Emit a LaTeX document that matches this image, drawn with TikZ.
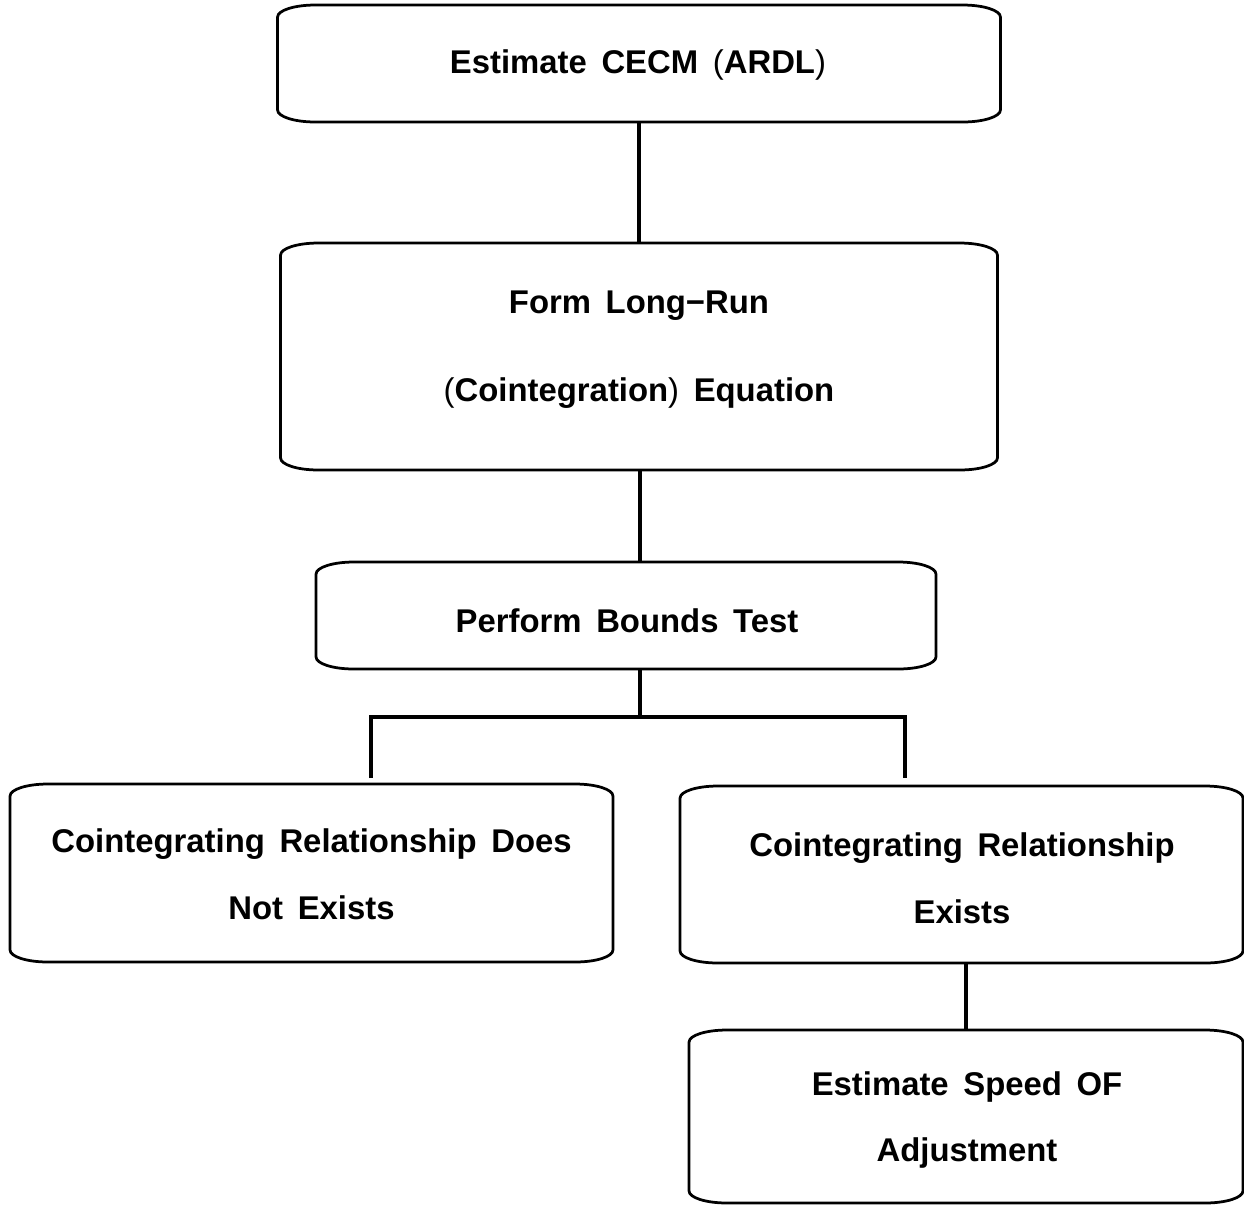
\documentclass[tikz,border=0pt]{standalone}
\usepackage{fontspec}
\setmainfont{Liberation Sans}[WordSpace=1.6]
\usetikzlibrary{calc}
\definecolor{fbInk}{HTML}{000000}
\newcommand\fbrx{.75cm}
\newcommand\fbry{.24cm}
\tikzset{
  fb step/.style={inner sep=0pt, outer sep=0pt},
  fb text/.style={
    align=center,
    inner sep=0pt,
    font=\fontsize{18.7}{38}\selectfont\bfseries,
    text=fbInk
  },
  fb frame/.style={draw=fbInk, line width=.55mm},
  fb link/.style={draw=fbInk, line width=.75mm}
}

\begin{document}
\begin{tikzpicture}[x=.02cm,y=.02cm]
  \useasboundingbox[fill=white] (0,0) rectangle (1244,-1205);

  % boxes
  \node[fb step, minimum width=14.46cm, minimum height=2.34cm] (est) at (639,-63.5) {};
  \node[fb step, minimum width=14.34cm, minimum height=4.54cm] (form) at (639,-356.5) {};
  \node[fb step, minimum width=12.4cm, minimum height=2.14cm] (bound) at (626,-615.5) {};
  \node[fb step, minimum width=12.06cm, minimum height=3.56cm] (noco) at (311.5,-873) {};
  \node[fb step, minimum width=11.26cm, minimum height=3.54cm] (co) at (961.5,-874.5) {};
  \node[fb step, minimum width=11.08cm, minimum height=3.46cm] (speed) at (966,-1116.5) {};

  % rounded frames, wider than tall at the corners
  \foreach \fb in {est,form,bound,noco,co,speed} {
    \draw[fb frame]
      ([xshift=\fbrx]\fb.north west) -- ([xshift=-\fbrx]\fb.north east)
      arc[start angle=90, end angle=0, x radius=\fbrx, y radius=\fbry]
      -- ([yshift=\fbry]\fb.south east)
      arc[start angle=0, end angle=-90, x radius=\fbrx, y radius=\fbry]
      -- ([xshift=\fbrx]\fb.south west)
      arc[start angle=270, end angle=180, x radius=\fbrx, y radius=\fbry]
      -- ([yshift=-\fbry]\fb.north west)
      arc[start angle=180, end angle=90, x radius=\fbrx, y radius=\fbry]
      -- cycle;
  }

  % texts
  \node[fb text] (est text) at (638,-64.8) {Estimate CECM {\mdseries(}ARDL{\mdseries)}};
  \node[fb text] (form text) at (639,-349.5) {Form Long−Run\\[12pt]{\mdseries(}Cointegration{\mdseries)} Equation};
  \node[fb text] (bound text) at (627,-621) {Perform Bounds Test};
  \node[fb text] (noco text) at (311.5,-874.5) {Cointegrating Relationship Does\\Not Exists};
  \node[fb text] (co text) at (962,-878) {Cointegrating Relationship\\Exists};
  \node[fb text] (speed text) at (967,-1120) {Estimate Speed OF\\Adjustment};

  \coordinate (fork) at (640,-717);
  \coordinate (dropL) at (371,-778);
  \coordinate (dropR) at (905,-778);

  \draw[fb link] (est) -- (form);
  \draw[fb link] (form.south -| fork) -- (fork |- bound.north);
  \draw[fb link] (bound.south -| fork) -- (fork);
  \draw[fb link] (dropL) |- (fork) -| (dropR);
  \draw[fb link] (co.south -| speed.north) -- (speed.north);
\end{tikzpicture}
\end{document}
